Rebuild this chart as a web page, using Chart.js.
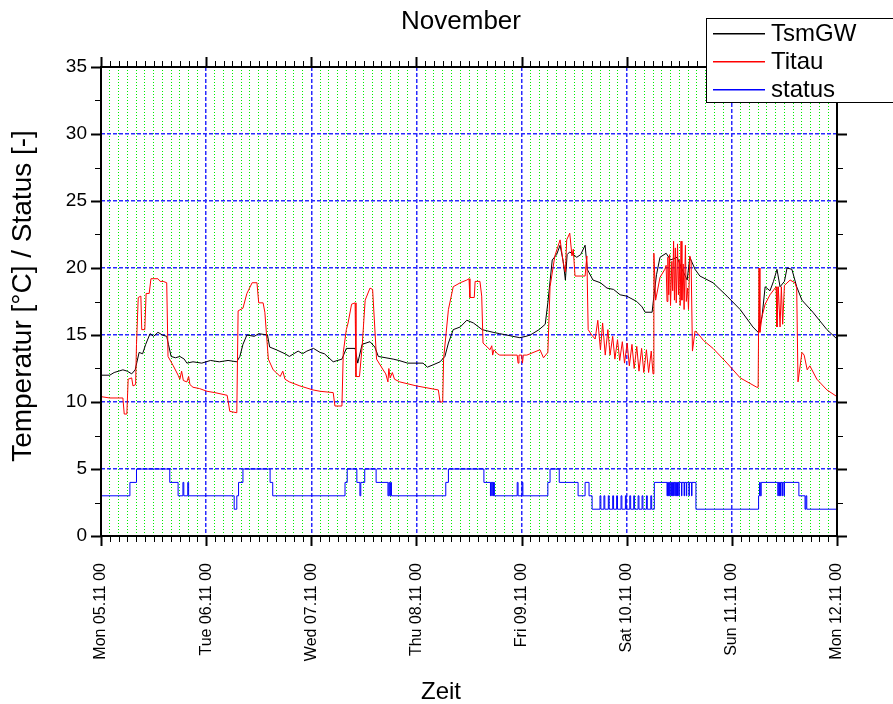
<!DOCTYPE html>
<html lang="de">
<head>
  <meta charset="UTF-8" />
  <title>November</title>
  <script src="https://cdn.jsdelivr.net/npm/chart.js"></script>
  <style>
    html, body { margin: 0; padding: 0; background: #fff; }
    #wrap { width: 893px; height: 704px; position: relative; }
  </style>
</head>
<body>
  <div id="wrap"><canvas id="tempChart" width="893" height="704"></canvas></div>

  <script>
    // x = hours since Mon 05.11 00:00
    const dayLabels = ['Mon 05.11 00', 'Tue 06.11 00', 'Wed 07.11 00', 'Thu 08.11 00',
      'Fri 09.11 00', 'Sat 10.11 00', 'Sun 11.11 00', 'Mon 12.11 00'];

    const seriesNames = ['TsmGW', 'Titau', 'status'];
    const seriesColors = ['#000000', '#ff0000', '#0000ff'];

    const tsmGW = [
      [0,12.0],[2,12.0],[3,12.2],[5,12.4],[6,12.3],[7,12.1],[7.8,12.4],[8.7,13.7],[9.5,13.6],[10.2,14.3],
      [11.2,15.1],[12,14.9],[13,15.2],[14,15.0],[15,14.9],[15.4,14.3],[16,13.4],[17,13.3],[18,13.4],[19,13.2],
      [19.6,12.9],[21,13.0],[23,12.9],[25,13.1],[27,13.0],[29,13.1],[31,13.0],[31.7,13.4],[32.4,14.3],[33.3,15.0],
      [35,14.9],[36,15.1],[38,15.0],[38.5,14.1],[40,13.9],[42,13.6],[43,13.4],[44,13.6],[45,13.8],[46,13.6],
      [47,13.8],[48.5,14.0],[50,13.7],[51,13.6],[53,13.0],[55,13.2],[56,14.0],[58,14.0],[58.6,12.9],[59.6,14.3],
      [61.4,14.5],[62.5,14.1],[63.3,13.4],[66.7,13.2],[68,13.1],[70,12.9],[73.5,12.9],[74.5,12.6],[76,12.8],[77.4,13.0],
      [78.5,13.4],[79.3,14.4],[80.4,15.4],[82,15.6],[83.5,16.1],[85,15.9],[87,15.4],[89.5,15.2],[91,15.1],[92.6,15.0],
      [94,14.9],[95.6,14.8],[97,14.9],[98,15.0],[100,15.4],[101.4,15.8],[102,17.4],[103,20.6],[104,21.0],[104.8,21.7],
      [105.5,20.5],[106,19.1],[106.4,21.0],[107,21.2],[108.6,20.8],[109.5,21.0],[110.5,21.7],[111,19.9],[112.3,19.1],[114,18.9],
      [115.5,18.5],[117,18.4],[118.5,18.0],[120,17.9],[122.3,17.5],[123.5,17.1],[124.2,16.7],[125.8,16.7],[126.2,17.9],[126.8,19.5],
      [127.6,20.8],[129,21.1],[130,20.6],[131.5,20.8],[132.5,20.0],[133.8,19.1],[134.4,20.8],[135.6,19.9],[136.7,19.4],[139.7,18.9],
      [142.9,17.9],[145.9,16.9],[148.8,15.6],[150,15.2],[150.9,16.4],[151.6,18.6],[152.7,18.3],[153.5,19.0],[154.3,19.9],[155,18.6],
      [156,19.0],[156.6,20.0],[157.7,19.9],[158.8,18.6],[160,17.6],[162.5,16.7],[165.7,15.4],[168,14.7]
    ];

    const titau = [
      [0,10.4],[2,10.3],[5,10.3],[5.3,9.1],[5.9,9.1],[6.2,11.7],[7,11.8],[7.3,11.2],[7.9,11.3],[8.1,14.3],
      [8.5,17.8],[9.1,17.9],[9.3,15.4],[10,15.4],[10.3,18.1],[11,18.1],[11.4,19.2],[13,19.2],[13.5,19.0],[14.2,19.0],
      [15,18.9],[15.3,13.4],[16.5,12.7],[17.6,12.0],[18,11.7],[18.4,12.3],[18.8,11.6],[19.6,11.5],[20,11.9],[20.3,11.3],
      [21,11.1],[22.5,11.0],[24.2,10.8],[26,10.7],[28.8,10.5],[29.4,9.3],[31,9.2],[31.3,16.8],[32.4,17.0],[33.3,18.1],
      [34.5,18.9],[35.6,18.9],[36,17.4],[37,17.4],[37.4,16.7],[38.2,13.2],[39.3,12.4],[40,12.2],[40.9,11.9],[41.5,12.3],
      [42,11.7],[43,11.5],[45.4,11.2],[48.4,10.9],[50,10.8],[53,10.7],[53.4,9.7],[55,9.7],[55.3,13.7],[56,15.4],
      [56.4,15.9],[57.2,17.3],[58,17.4],[58.2,11.9],[59,11.9],[59.6,14.1],[60.3,17.6],[61.4,18.5],[62,18.4],[62.9,13.2],
      [64.4,12.4],[65,12.1],[65.5,11.5],[65.7,12.5],[66,11.8],[66.5,12.2],[67,11.7],[68.2,11.5],[72,11.2],[77,10.9],
      [77.4,10.0],[78,10.0],[78.2,13.2],[79.3,16.9],[80.4,18.6],[82,18.9],[83.5,19.1],[84,19.2],[84.2,17.8],[85.2,17.8],
      [85.4,19.0],[86.5,19.0],[86.9,17.9],[87.2,14.4],[88.8,13.9],[89.2,14.2],[89.4,13.5],[89.7,13.9],[90.5,13.6],[91,13.5],
      [95,13.5],[95.2,12.9],[95.4,13.5],[96,13.5],[96.2,12.9],[96.4,13.5],[97.2,13.5],[100.2,13.9],[101,13.3],[102,13.7],
      [102.5,18.6],[103.6,20.9],[104.8,22.1],[105.5,20.4],[106,19.7],[106.3,22.1],[107,22.6],[107.5,20.9],[107.8,21.4],[108.2,19.4],
      [110.5,19.4],[110.9,20.9],[111.2,15.4],[112,15.0],[112.8,14.7],
      [113.4,16.1],[114.0,13.9],[114.5,15.9],[115.1,13.5],[115.7,15.4],[116.2,13.5],[116.8,14.9],[117.3,13.2],[117.9,14.65],[118.4,13.1],
      [119.0,14.5],[119.5,12.9],[120.1,14.4],[120.6,12.7],[121.2,14.3],[121.7,12.5],[122.3,14.15],[122.8,12.3],[123.4,14.0],[123.9,12.2],
      [124.5,13.9],[125.0,12.2],[125.6,13.8],[126.0,12.1],
      [126.2,21.1],[126.6,17.6],[127.6,19.3],[128.7,19.9],[129.0,20.2],[129.2,17.5],[129.4,20.8],[129.6,18.0],[129.8,21.0],[130.0,17.2],
      [130.3,20.5],[130.5,18.3],[130.7,22.0],[130.9,17.6],[131.1,21.5],[131.3,17.4],[131.6,21.8],[131.8,18.0],[132.0,20.6],[132.2,17.2],
      [132.4,22.0],[132.6,17.6],[132.9,20.3],[133.1,16.9],[133.4,21.7],[133.6,17.5],[133.9,18.5],[134.1,16.9],[134.4,20.9],[134.7,20.5],
      [135.0,13.8],[135.6,15.3],[136.3,15.1],[137.5,14.6],[139.7,14.0],[142.9,12.9],[145.9,11.8],[149.7,11.1],[150.0,11.1],[150.2,20.0],
      [150.4,15.2],[150.9,16.4],[151.6,17.3],[152.7,18.0],[154.1,18.6],[154.3,15.6],[154.6,18.6],[155.0,15.6],[155.3,18.6],[155.6,15.8],
      [156.0,18.7],[157.3,19.1],[158.4,18.9],[158.8,18.5],[159.1,11.5],[160,13.7],[160.5,13.5],[161.2,12.4],[161.8,12.7],[163.4,11.7],
      [165.7,10.9],[168,10.4]
    ];

    // status holds its value until the next entry
    const status = [
      [0,3],[6.6,4],[8.1,5],[15.7,4],[17.6,3],[18.7,4],[18.9,3],[19.8,4],[20.0,3],
      [30.4,2],[31.0,3],[31.4,4],[32.4,5],[38.6,4],[39.2,3],
      [55.7,4],[56.2,5],[58.4,4],[59.1,3],[59.3,4],[60.2,5],[62.8,4],[65.5,3],[65.7,4],[65.9,3],[66.1,4],[66.3,3],
      [78.7,4],[79.3,5],[87.4,4],[88.9,3],[89.0,4],[89.2,3],[89.3,4],[89.5,3],[89.6,4],[89.8,3],
      [95.0,4],[95.2,3],[96.1,4],[96.3,3],[102.0,4],[102.5,5],[104.6,4],[108.9,3],[110.5,4],[111.4,3],[112.1,2],
      [113.9,3],[114.1,2],[114.8,3],[115.0,2],[115.8,3],[116.0,2],[116.8,3],[117.0,2],[117.7,3],[117.9,2],
      [118.7,3],[118.9,2],[119.7,3],[119.9,2],[120.7,3],[120.9,2],[121.6,3],[121.8,2],[122.6,3],[122.8,2],
      [123.5,3],[123.7,2],[124.5,3],[124.7,2],[125.5,3],[125.7,2],
      [126.3,4],
      [129.2,3],[129.3,4],[129.5,3],[129.6,4],[129.8,3],[129.9,4],[130.1,3],[130.2,4],[130.4,3],[130.5,4],
      [130.7,3],[130.8,4],[131.0,3],[131.1,4],[131.3,3],[131.4,4],[131.6,3],[131.7,4],[131.9,3],[132.0,4],
      [132.5,3],[132.6,4],[133.1,3],[133.2,4],[133.6,3],[133.7,4],[134.2,3],[134.3,4],[134.8,3],[134.9,4],
      [135.8,2],[150.1,3],[150.3,4],[150.5,3],[150.7,4],
      [154.5,3],[154.6,4],[154.8,3],[154.9,4],[155.1,3],[155.2,4],[155.5,3],[155.6,4],[155.9,3],[156.0,4],
      [159.3,3],[160.7,2],[160.9,3],[161.1,2],[168,2]
    ];

    const toXY = arr => arr.map(([x, y]) => ({ x, y }));
    const FONT = "'Liberation Sans', Arial, sans-serif";

    // frame, outward ticks, titles and legend box
    const decor = {
      id: 'decor',
      afterDraw(chart) {
        const { ctx, chartArea: a, scales: { x, y } } = chart;
        ctx.save();
        ctx.strokeStyle = '#000';

        // ticks
        for (let h = 0; h <= 168; h += 2) {
          const px = Math.round(x.getPixelForValue(h)) + 0.5;
          const major = h % 24 === 0;
          ctx.lineWidth = major ? 2 : 1;
          const len = major ? 10 : 6;
          ctx.beginPath();
          ctx.moveTo(px, a.bottom); ctx.lineTo(px, a.bottom + len);
          ctx.moveTo(px, a.top); ctx.lineTo(px, a.top - len);
          ctx.stroke();
        }
        for (let v = 0; v <= 35; v += 2.5) {
          const py = Math.round(y.getPixelForValue(v)) + 0.5;
          const major = v % 5 === 0;
          ctx.lineWidth = major ? 2 : 1;
          const len = major ? 10 : 6;
          ctx.beginPath();
          ctx.moveTo(a.left, py); ctx.lineTo(a.left - len, py);
          ctx.moveTo(a.right, py); ctx.lineTo(a.right + len, py);
          ctx.stroke();
        }

        // frame
        ctx.lineWidth = 2;
        ctx.strokeRect(a.left, a.top, a.right - a.left, a.bottom - a.top);

        // titles
        ctx.fillStyle = '#000';
        ctx.textAlign = 'center';
        ctx.textBaseline = 'middle';
        ctx.font = '26px ' + FONT;
        ctx.fillText('November', 461, 22);
        ctx.font = '24px ' + FONT;
        ctx.fillText('Zeit', 441, 692);
        ctx.save();
        ctx.translate(23, 296);
        ctx.rotate(-Math.PI / 2);
        ctx.font = '28px ' + FONT;
        ctx.fillText('Temperatur [°C] / Status [-]', 0, 0);
        ctx.restore();

        // legend
        ctx.fillStyle = '#fff';
        ctx.fillRect(706, 18, 200, 84);
        ctx.lineWidth = 1;
        ctx.strokeStyle = '#000';
        ctx.strokeRect(706.5, 18.5, 200, 84);
        ctx.font = '24px ' + FONT;
        ctx.textAlign = 'left';
        seriesNames.forEach((name, i) => {
          const ry = 33 + i * 28;
          ctx.fillStyle = seriesColors[i];
          ctx.fillRect(713, ry, 52, 1.5);
          ctx.fillStyle = '#000';
          ctx.fillText(name, 771, ry + 1);
        });
        ctx.restore();
      }
    };

    const lineStyle = { pointRadius: 0, borderWidth: 1, fill: false, tension: 0 };

    new Chart(document.getElementById('tempChart'), {
      type: 'line',
      data: {
        datasets: [
          { label: 'Titau', data: toXY(titau), borderColor: seriesColors[1], ...lineStyle },
          { label: 'TsmGW', data: toXY(tsmGW), borderColor: seriesColors[0], ...lineStyle },
          { label: 'status', data: toXY(status), borderColor: seriesColors[2], stepped: true, ...lineStyle }
        ]
      },
      options: {
        responsive: false,
        animation: false,
        layout: { padding: { top: 67, right: 56, left: 0, bottom: 0 } },
        plugins: { legend: { display: false }, title: { display: false }, tooltip: { enabled: false } },
        scales: {
          x: {
            type: 'linear', min: 0, max: 168,
            afterFit: s => { s.height = 168; },
            border: { display: false, dash: ctx => (ctx.tick && ctx.tick.value % 24 === 0) ? [4, 2] : [1, 2] },
            grid: {
              drawTicks: false,
              color: ctx => (ctx.tick && ctx.tick.value % 24 === 0) ? '#2a2aff' : '#00ee00',
              lineWidth: ctx => (ctx.tick && ctx.tick.value % 24 === 0) ? 1.5 : 1
            },
            ticks: {
              stepSize: 2, autoSkip: false, maxRotation: 90, minRotation: 90, padding: 27,
              color: '#000', font: { family: FONT, size: 16 },
              callback: v => v % 24 === 0 ? dayLabels[v / 24] : ''
            }
          },
          y: {
            min: 0, max: 35,
            afterFit: s => { s.width = 101; },
            border: { display: false, dash: [4, 2] },
            grid: {
              drawTicks: false,
              color: ctx => (ctx.tick && ctx.tick.value % 5 === 0) ? '#2a2aff' : 'rgba(0,0,0,0)',
              lineWidth: 1.5
            },
            ticks: {
              stepSize: 2.5, padding: 14, color: '#000', font: { family: FONT, size: 19 },
              callback: v => v % 5 === 0 ? String(v) : ''
            }
          }
        }
      },
      plugins: [decor]
    });
  </script>
</body>
</html>
